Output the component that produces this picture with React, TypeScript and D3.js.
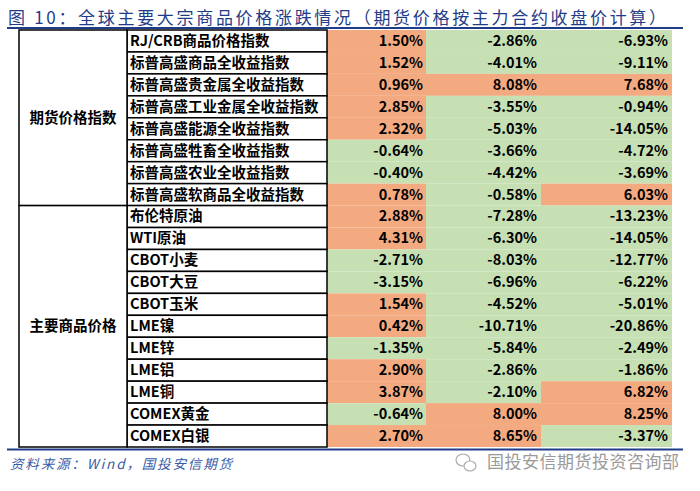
import React from "react";
import * as d3 from "d3";

const groups = ["期货价格指数", "主要商品价格"];
const groupSizes = [8, 11];
const names = [
  "RJ/CRB商品价格指数",
  "标普高盛商品全收益指数",
  "标普高盛贵金属全收益指数",
  "标普高盛工业金属全收益指数",
  "标普高盛能源全收益指数",
  "标普高盛牲畜全收益指数",
  "标普高盛农业全收益指数",
  "标普高盛软商品全收益指数",
  "布伦特原油",
  "WTI原油",
  "CBOT小麦",
  "CBOT大豆",
  "CBOT玉米",
  "LME镍",
  "LME锌",
  "LME铝",
  "LME铜",
  "COMEX黄金",
  "COMEX白银",
];
const col1 = [1.5, 1.52, 0.96, 2.85, 2.32, -0.64, -0.4, 0.78, 2.88, 4.31, -2.71, -3.15, 1.54, 0.42, -1.35, 2.9, 3.87, -0.64, 2.7];
const col2 = [-2.86, -4.01, 8.08, -3.55, -5.03, -3.66, -4.42, -0.58, -7.28, -6.3, -8.03, -6.96, -4.52, -10.71, -5.84, -2.86, -2.1, 8.0, 8.65];
const col3 = [-6.93, -9.11, 7.68, -0.94, -14.05, -4.72, -3.69, 6.03, -13.23, -14.05, -12.77, -6.22, -5.01, -20.86, -2.49, -1.86, 6.82, 8.25, -3.37];

const title = "图 10：全球主要大宗商品价格涨跌情况（期货价格按主力合约收盘价计算）";
const source = "资料来源：Wind，国投安信期货";
const brand = "国投安信期货投资咨询部";

const ORANGE = "#F4AA80";
const GREEN = "#C6E0B4";
const BLUE = "#1F3C88";

export default function App() {
  const top = 30;
  const bottom = 447;
  const y = d3.scaleBand<number>().domain(d3.range(names.length)).range([top, bottom]);
  const colX = [19, 127, 327, 426, 541, 672];
  const cols = [col1, col2, col3];
  const textRight = [423, 537, 668];
  const font = "'Noto Sans CJK SC', 'Noto Sans', sans-serif";
  const fmt = (v: number) => v.toFixed(2) + "%";

  let start = 0;
  const groupRanges = groupSizes.map((n) => {
    const r = [start, start + n - 1];
    start += n;
    return r;
  });

  return (
    <svg width={700} height={491} style={{ position: "absolute", left: 0, top: 0, background: "#fff" }}>
      <rect width={700} height={491} fill="#fff" />
      <text x={8} y={19} fontFamily={font} fontSize={17} fill={BLUE} textLength={658} lengthAdjust="spacing" dominantBaseline="middle">
        {title}
      </text>
      <line x1={7} x2={683} y1={28} y2={28} stroke={BLUE} strokeWidth={2} />

      {names.map((_, i) =>
        cols.map((c, j) => (
          <rect
            key={`c${i}-${j}`}
            x={colX[j + 2]}
            y={y(i)!}
            width={colX[j + 3] - colX[j + 2]}
            height={y.bandwidth()}
            fill={c[i] >= 0 ? ORANGE : GREEN}
          />
        ))
      )}

      {names.map((n, i) => (
        <g key={`n${i}`}>
          <rect x={colX[1]} y={y(i)!} width={colX[2] - colX[1]} height={y.bandwidth()} fill="#fff" stroke="#000" strokeWidth={1.5} />
          <text x={colX[1] + 3} y={y(i)! + y.bandwidth() / 2 + 1} fontFamily={font} fontWeight="bold" fontSize={14.5} dominantBaseline="middle" fill="#000">
            {n}
          </text>
          {cols.map((c, j) => (
            <text
              key={j}
              x={textRight[j]}
              y={y(i)! + y.bandwidth() / 2 + 1}
              textAnchor="end"
              fontFamily={font}
              fontWeight="bold"
              fontSize={14.5}
              dominantBaseline="middle"
              fill="#000"
            >
              {fmt(c[i])}
            </text>
          ))}
        </g>
      ))}

      {groups.map((g, k) => {
        const y0 = y(groupRanges[k][0])!;
        const y1 = y(groupRanges[k][1])! + y.bandwidth();
        return (
          <g key={g}>
            <rect x={colX[0]} y={y0} width={colX[1] - colX[0]} height={y1 - y0} fill="#fff" stroke="#000" strokeWidth={1.5} />
            <text x={(colX[0] + colX[1]) / 2} y={(y0 + y1) / 2 + 1} textAnchor="middle" dominantBaseline="middle" fontFamily={font} fontWeight="bold" fontSize={14.5}>
              {g}
            </text>
          </g>
        );
      })}

      <line x1={7} x2={683} y1={449.5} y2={449.5} stroke={BLUE} strokeWidth={2} />
      <text x={10} y={465} fontFamily={font} fontStyle="italic" fontSize={13.5} fill="#3A5BA8" dominantBaseline="middle" textLength={222} lengthAdjust="spacing">
        {source}
      </text>
      <g transform="translate(465,463)" fill="none" stroke="#aaa" strokeWidth={1.2}>
        <ellipse cx={-2} cy={-3} rx={7} ry={6} />
        <ellipse cx={5} cy={3} rx={6} ry={5} fill="#fff" />
      </g>
      <text x={487} y={463} fontFamily={font} fontSize={17} fill="#9a9a9a" dominantBaseline="middle" textLength={192} lengthAdjust="spacing">
        {brand}
      </text>
    </svg>
  );
}
